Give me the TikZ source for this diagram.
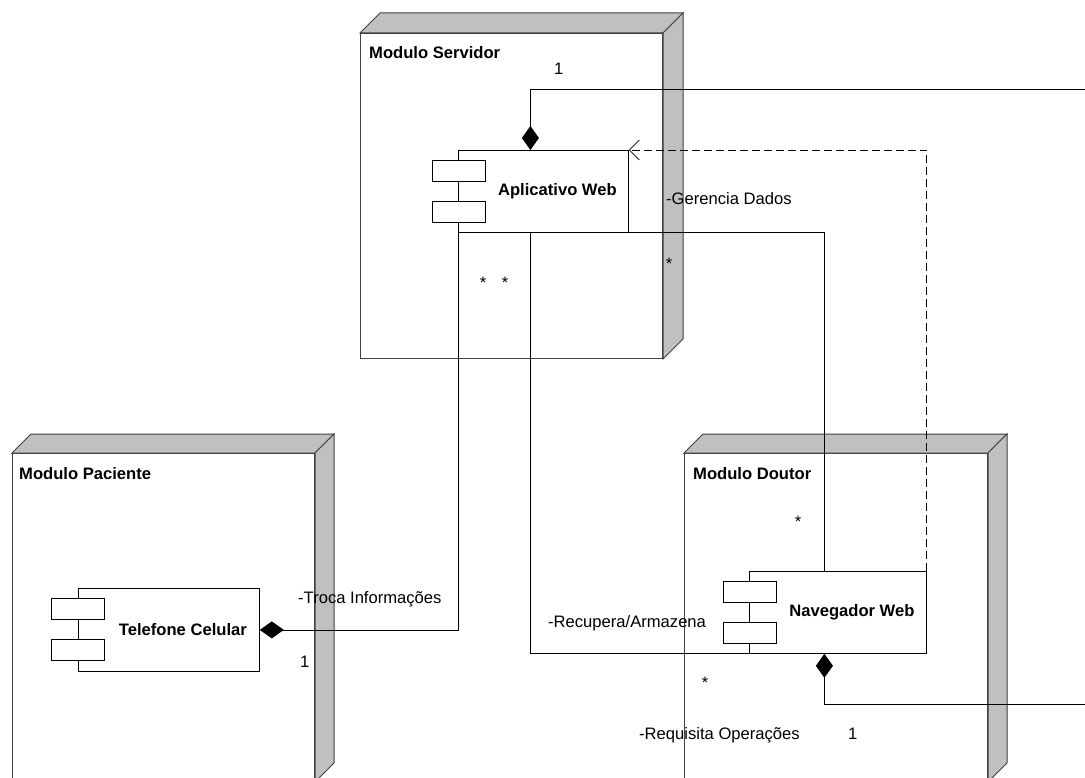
\documentclass[tikz,border=0pt]{standalone}
\usepackage{fontspec}
\setmainfont{Liberation Sans}
\usetikzlibrary{arrows.meta}
\definecolor{facegray}{RGB}{192,192,192}
\definecolor{edgegray}{RGB}{64,64,64}

\begin{document}
\begin{tikzpicture}[x=1pt, y=-1pt,
    txt/.style={font=\fontsize{16.6}{20}\selectfont, inner sep=0, anchor=base west},
    title/.style={txt, font=\fontsize{16.6}{20}\selectfont\bfseries},
    mult/.style={font=\fontsize{16.6}{20}\selectfont, inner sep=0, anchor=base},
    box/.style={draw=edgegray, fill=white, line width=1pt, anchor=north west, inner sep=0},
    face/.style={draw=edgegray, fill=facegray, line width=1pt},
    comp/.style={draw=black, fill=white, line width=0.8pt, anchor=north west, inner sep=0,
        minimum height=82pt, font=\fontsize{16.6}{20}\selectfont\bfseries},
    port/.style={draw=black, fill=white, line width=0.8pt, anchor=north west,
        minimum width=53pt, minimum height=21pt, inner sep=0},
    link/.style={line width=0.8pt},
    whole/.style={-{Diamond[length=24pt, width=17pt]}}
]
    \useasboundingbox (0,0) rectangle (1085,778);
    \clip (0,0) rectangle (1085,778);

    % deployment nodes
    \node[box, minimum width=302pt, minimum height=325pt] (srv) at (360,33) {};
    \filldraw[face] (srv.north west) -- ++(20,-20) -- ([shift={(20,-20)}]srv.north east) -- (srv.north east) -- cycle;
    \filldraw[face] (srv.north east) -- ++(20,-20) -- ([shift={(20,-20)}]srv.south east) -- (srv.south east) -- cycle;

    \node[box, minimum width=302pt, minimum height=328pt] (pac) at (12,453) {};
    \filldraw[face] (pac.north west) -- ++(19,-19) -- ([shift={(19,-19)}]pac.north east) -- (pac.north east) -- cycle;
    \filldraw[face] (pac.north east) -- ++(19,-19) -- ([shift={(19,-19)}]pac.south east) -- (pac.south east) -- cycle;

    \node[box, minimum width=303pt, minimum height=328pt] (dou) at (684,453) {};
    \filldraw[face] (dou.north west) -- ++(19,-19) -- ([shift={(19,-19)}]dou.north east) -- (dou.north east) -- cycle;
    \filldraw[face] (dou.north east) -- ++(19,-19) -- ([shift={(19,-19)}]dou.south east) -- (dou.south east) -- cycle;

    \node[title] (srvname) at (369,59) {Modulo Servidor};
    \node[title] (pacname) at (19,479) {Modulo Paciente};
    \node[title] (douname) at (693,479) {Modulo Doutor};

    % components
    \node[comp, minimum width=170pt] (app) at (458,150) {\hspace*{28pt}Aplicativo Web};
    \node[port] (app-a) at ([shift={(-26,10)}]app.north west) {};
    \node[port] (app-b) at ([shift={(-26,51)}]app.north west) {};

    \node[comp, minimum width=181pt, minimum height=83pt] (tel) at (78,588) {\hspace*{28pt}Telefone Celular};
    \node[port] (tel-a) at ([shift={(-27,10)}]tel.north west) {};
    \node[port] (tel-b) at ([shift={(-27,51)}]tel.north west) {};

    \node[comp, minimum width=177pt] (nav) at (749,571) {\hspace*{28pt}Navegador Web};
    \node[port] (nav-a) at ([shift={(-26,10)}]nav.north west) {};
    \node[port] (nav-b) at ([shift={(-26,51)}]nav.north west) {};

    % connectors
    \coordinate (farA) at (1100,89);
    \coordinate (farB) at (1100,704);
    \draw[link, whole] (app.south west) |- (tel.east);
    \draw[link] ([xshift=-13pt]app.south) |- (nav.south west);
    \draw[link] (app.south east) -| ([xshift=-13.5pt]nav.north);
    \draw[link, dash pattern=on 8pt off 4pt, -{Straight Barb[length=10pt, width=20pt]}] (nav.north east) |- (app.north east);
    \draw[link, {Diamond[length=24pt, width=17pt]}-{Diamond[length=24pt, width=17pt]}]
        ([xshift=-13pt]app.north) |- (farA) -- (farB) -| ([xshift=-13.5pt]nav.south);

    % labels
    \node[txt] (mapp) at (554,75) {1};
    \node[txt] (gerencia) at (666,205) {-Gerencia Dados};
    \node[mult] (mger) at (669,270) {*};
    \node[mult] (mrec1) at (483,288) {*};
    \node[mult] (mrec2) at (505,288) {*};
    \node[mult] (mnav1) at (798,527) {*};
    \node[txt] (troca) at (298,603) {-Troca Informações};
    \node[txt] (mtel) at (300,667) {1};
    \node[txt] (recupera) at (548,627) {-Recupera/Armazena};
    \node[mult] (mnav2) at (705,688) {*};
    \node[txt] (requisita) at (639,739) {-Requisita Operações};
    \node[txt] (mreq) at (848,739) {1};
\end{tikzpicture}
\end{document}
